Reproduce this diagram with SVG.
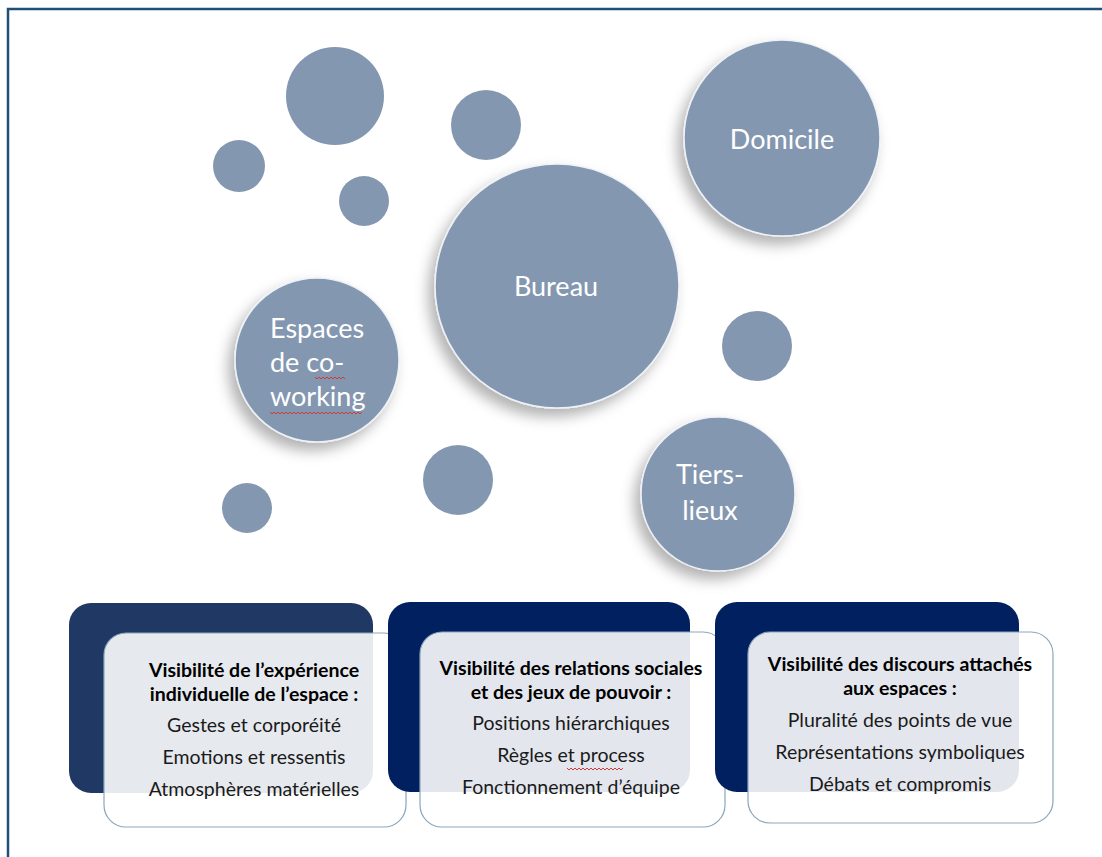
<svg xmlns="http://www.w3.org/2000/svg" width="1102" height="857" viewBox="0 0 1102 857">
<style>
.bub{fill:#8497b0;}
.big{fill:#8497b0;stroke:#eef2f7;stroke-width:1.5;filter:url(#sh);}
.lbl{font-family:Lato,"Liberation Sans",sans-serif;fill:#ffffff;font-size:27px;}
.dark1{fill:#203864;}
.dark2{fill:#002060;}
.light{fill:#ffffff;fill-opacity:0.89;stroke:#8aa7ba;stroke-width:1.2;}
.t{font-family:Lato,"Liberation Sans",sans-serif;font-size:19.5px;fill:#1a1a1a;text-anchor:middle;}
.b{font-weight:bold;fill:#000000;}
.sp{fill:none;stroke:#d23a3a;stroke-width:1;}
</style>
<defs>
<filter id="sh" x="-30%" y="-30%" width="160%" height="160%">
<feDropShadow dx="-6" dy="8" stdDeviation="7" flood-color="#000000" flood-opacity="0.3"/>
</filter>
</defs>
<rect x="8" y="9" width="1200" height="1000" fill="none" stroke="#1f4e79" stroke-width="2.5"/>

<g id="small-bubbles">
<circle class="bub" cx="239" cy="166" r="26"/>
<circle class="bub" cx="335" cy="96" r="49"/>
<circle class="bub" cx="364" cy="201" r="25"/>
<circle class="bub" cx="486" cy="125" r="35"/>
<circle class="bub" cx="757" cy="346" r="35"/>
<circle class="bub" cx="458" cy="480" r="35"/>
<circle class="bub" cx="247" cy="508" r="25"/>
</g>

<g id="domicile">
<circle class="big" cx="782" cy="138" r="98"/>
<text class="lbl" x="782" y="149" text-anchor="middle" font-size="30">Domicile</text>
</g>

<g id="bureau">
<circle class="big" cx="557" cy="286" r="122"/>
<text class="lbl" x="556" y="296" text-anchor="middle" font-size="30">Bureau</text>
</g>

<g id="coworking">
<circle class="big" cx="317" cy="360" r="82"/>
<text class="lbl" x="270" y="338">Espaces</text>
<text class="lbl" x="270" y="372">de co-</text>
<text class="lbl" x="270" y="406">working</text>
<path class="sp" d="M315,377 l2,2 l2,-2 l2,2 l2,-2 l2,2 l2,-2 l2,2 l2,-2 l2,2 l2,-2 l2,2 l2,-2 l2,2 l2,-2 l2,2"/>
<path class="sp" d="M270,412 l2,2 l2,-2 l2,2 l2,-2 l2,2 l2,-2 l2,2 l2,-2 l2,2 l2,-2 l2,2 l2,-2 l2,2 l2,-2 l2,2 l2,-2 l2,2 l2,-2 l2,2 l2,-2 l2,2 l2,-2 l2,2 l2,-2 l2,2 l2,-2 l2,2 l2,-2 l2,2 l2,-2 l2,2 l2,-2 l2,2 l2,-2 l2,2 l2,-2 l2,2 l2,-2 l2,2 l2,-2 l2,2 l2,-2 l2,2 l2,-2 l2,2 l2,-2"/>
</g>

<g id="tiers-lieux">
<circle class="big" cx="718" cy="494" r="77"/>
<text class="lbl" x="710" y="484" text-anchor="middle" font-size="32">Tiers-</text>
<text class="lbl" x="710" y="520" text-anchor="middle" font-size="32">lieux</text>
</g>

<g id="box1">
<rect class="dark1" x="69" y="603" width="304" height="190" rx="22"/>
<rect class="light" x="104" y="633" width="302" height="194" rx="22"/>
<text class="t b" x="254" y="677">Visibilité de l’expérience</text>
<text class="t b" x="254" y="701">individuelle de l’espace :</text>
<text class="t" x="254" y="732">Gestes et corporéité</text>
<text class="t" x="254" y="764">Emotions et ressentis</text>
<text class="t" x="254" y="796">Atmosphères matérielles</text>
</g>

<g id="box2">
<rect class="dark2" x="388" y="602" width="302" height="190" rx="22"/>
<rect class="light" x="420" y="632" width="305" height="195" rx="22"/>
<text class="t b" x="571" y="675">Visibilité des relations sociales</text>
<text class="t b" x="571" y="699">et des jeux de pouvoir :</text>
<text class="t" x="571" y="730">Positions hiérarchiques</text>
<text class="t" x="571" y="762">Règles et process</text>
<text class="t" x="571" y="794">Fonctionnement d’équipe</text>
<path class="sp" d="M567,768 l2,2 l2,-2 l2,2 l2,-2 l2,2 l2,-2 l2,2 l2,-2 l2,2 l2,-2 l2,2 l2,-2 l2,2 l2,-2 l2,2 l2,-2 l2,2 l2,-2 l2,2 l2,-2 l2,2 l2,-2 l2,2 l2,-2 l2,2 l2,-2 l2,2 l2,-2"/>
</g>

<g id="box3">
<rect class="dark2" x="715" y="602" width="304" height="190" rx="22"/>
<rect class="light" x="748" y="632" width="305" height="191" rx="22"/>
<text class="t b" x="900" y="671">Visibilité des discours attachés</text>
<text class="t b" x="900" y="695">aux espaces :</text>
<text class="t" x="900" y="727">Pluralité des points de vue</text>
<text class="t" x="900" y="759">Représentations symboliques</text>
<text class="t" x="900" y="791">Débats et compromis</text>
</g>
</svg>
